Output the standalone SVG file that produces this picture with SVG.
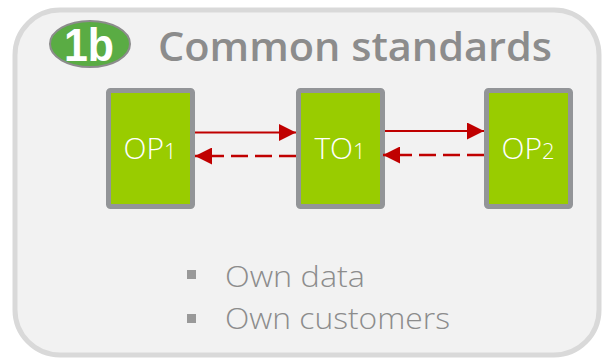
<svg xmlns="http://www.w3.org/2000/svg" width="603" height="360" viewBox="0 0 603 360">
<style>
.node rect{fill:#99cc00;stroke:#939598;stroke-width:5}
.nt{font-family:"Open Sans","Lato",sans-serif;font-size:30px;font-weight:300;fill:#ffffff;text-anchor:middle}
.sub{font-size:22px}
.solid{stroke:#c00000;stroke-width:2;fill:none}
.dash{stroke:#c00000;stroke-width:2.5;fill:none;stroke-dasharray:17 7}
.bt{font-family:"Open Sans","Lato",sans-serif;font-size:29px;font-weight:300;fill:#8c8c8c}
</style>
<defs>
<marker id="ah" viewBox="0 0 10 10" refX="10" refY="5" markerUnits="userSpaceOnUse" markerWidth="18" markerHeight="17" orient="auto">
<path d="M0,0 L10,5 L0,10 z" fill="#c00000"/>
</marker>
</defs>
<rect x="15" y="10" width="584" height="345" rx="45" ry="45" fill="#f2f2f2" stroke="#d9d9d9" stroke-width="5"/>
<g id="badge">
<ellipse cx="90" cy="44" rx="40" ry="23" fill="#5aac44" stroke="#8c8c8c" stroke-width="2"/>
<text x="89" y="61" font-family="'Liberation Sans',Arial,sans-serif" font-weight="bold" font-size="46" fill="#ffffff" text-anchor="middle" textLength="50" lengthAdjust="spacingAndGlyphs">1b</text>
</g>
<text id="title" x="158" y="61" font-family="'Open Sans',Lato,sans-serif" font-weight="600" font-size="40" fill="#8c8c8c" textLength="394" lengthAdjust="spacingAndGlyphs">Common standards</text>
<g id="OP1" class="node">
<rect x="108.5" y="90.5" width="84" height="116" rx="2"/>
<text class="nt" x="150" y="159">OP<tspan class="sub">1</tspan></text>
</g>
<g id="TO1" class="node">
<rect x="298.5" y="90.5" width="84" height="116" rx="2"/>
<text class="nt" x="340" y="159">TO<tspan class="sub">1</tspan></text>
</g>
<g id="OP2" class="node">
<rect x="486.5" y="90.5" width="84" height="116" rx="2"/>
<text class="nt" x="528" y="159">OP<tspan class="sub">2</tspan></text>
</g>
<g id="connectors">
<line class="solid" x1="195" y1="132.5" x2="296" y2="132.5" marker-end="url(#ah)"/>
<line class="dash" x1="296" y1="156" x2="195" y2="156" marker-end="url(#ah)"/>
<line class="solid" x1="385" y1="131" x2="484" y2="131" marker-end="url(#ah)"/>
<line class="dash" x1="484" y1="155" x2="383" y2="155" marker-end="url(#ah)"/>
</g>
<g id="bullets">
<rect x="187" y="270" width="9" height="9" fill="#999999"/>
<text class="bt" x="225" y="287" textLength="140" lengthAdjust="spacingAndGlyphs">Own data</text>
<rect x="187" y="314" width="9" height="9" fill="#999999"/>
<text class="bt" x="225" y="329" textLength="225" lengthAdjust="spacingAndGlyphs">Own customers</text>
</g>
</svg>
